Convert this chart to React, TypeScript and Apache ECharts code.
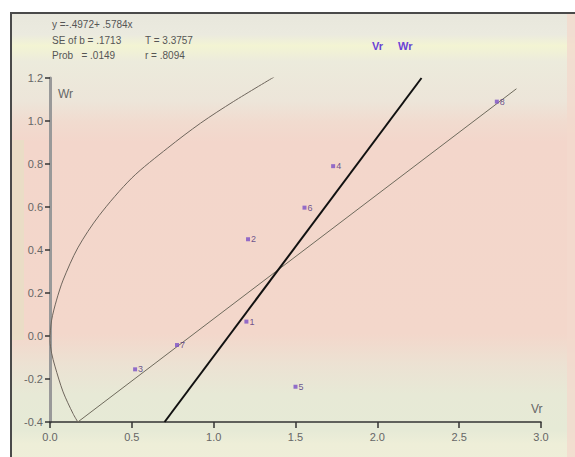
import React, { useEffect, useRef } from "react";
import * as echarts from "echarts";

// ---- data ----
const pointNames = ["1", "2", "3", "4", "5", "6", "7", "8"];
const pointX = [1.2, 1.21, 0.52, 1.73, 1.5, 1.555, 0.776, 2.73];
const pointY = [0.067, 0.45, -0.155, 0.79, -0.236, 0.597, -0.042, 1.09];

const fitX = [0.17, 2.85];
const fitY = [-0.4, 1.15];

const majorX = [0.7, 2.27];
const majorY = [-0.4, 1.2];

const curveX = [1.37, 1.12, 0.92, 0.72, 0.5, 0.3, 0.17, 0.08, 0.04, 0.01, 0.0, 0.01, 0.03, 0.08, 0.14, 0.17];
const curveY = [1.205, 1.09, 0.99, 0.875, 0.735, 0.56, 0.41, 0.26, 0.167, 0.074, -0.02, -0.08, -0.14, -0.26, -0.36, -0.4];

const xMin = 0, xMax = 3, xStep = 0.5;
const yMin = -0.4, yMax = 1.2, yStep = 0.2;

const statsLeft = ["y =-.4972+ .5784x", "SE of b = .1713", "Prob   = .0149"];
const statsRight = ["", "T = 3.3757", "r = .8094"];
const legendNames = ["Vr", "Wr"];
const xName = "Vr";
const yName = "Wr";

const FONT = "'Liberation Sans Narrow', 'Liberation Sans', Arial, sans-serif";

export default function App() {
  const ref = useRef<HTMLDivElement>(null);
  useEffect(() => {
    if (!ref.current) return;
    const chart = echarts.init(ref.current, undefined, { renderer: "svg" });
    const pair = (xs: number[], ys: number[]) => xs.map((x, i) => [x, ys[i]]);

    const bg = new echarts.graphic.LinearGradient(0, 0, 0, 1, [
      { offset: 0, color: "#e8e7dc" },
      { offset: 0.05, color: "#ebeadf" },
      { offset: 0.075, color: "#f3f4d3" },
      { offset: 0.11, color: "#ecebdc" },
      { offset: 0.2, color: "#ede5d9" },
      { offset: 0.245, color: "#f1dbcf" },
      { offset: 0.29, color: "#f3d6cb" },
      { offset: 0.715, color: "#f3d7cb" },
      { offset: 0.785, color: "#ece2d3" },
      { offset: 0.85, color: "#e7e9d6" },
      { offset: 0.93, color: "#e6ead6" },
      { offset: 0.96, color: "#eeeed8" },
      { offset: 1, color: "#efeed9" },
    ]);

    const graphics: any[] = [
      { type: "rect", z: -10, silent: true, shape: { x: 10, y: 12, width: 570, height: 450 }, style: { fill: bg } },
      { type: "rect", z: -9, silent: true, shape: { x: 567, y: 12, width: 10, height: 450 }, style: { fill: "#f3d9cd", opacity: 0.8 } },
      { type: "rect", z: -9, silent: true, shape: { x: 12, y: 140, width: 12, height: 200 }, style: { fill: "#e2e4c2", opacity: 0.5 } },
      { type: "line", z: 5, silent: true, shape: { x1: 10, y1: 13, x2: 575, y2: 13 }, style: { stroke: "#4a4a4a", lineWidth: 2 } },
      { type: "line", z: 5, silent: true, shape: { x1: 11, y1: 12, x2: 11, y2: 457 }, style: { stroke: "#4a4a4a", lineWidth: 2 } },
    ];
    const rowTops = [19, 35, 50];
    statsLeft.forEach((t, i) => {
      graphics.push({ type: "text", left: 52, top: rowTops[i], style: { text: t, fill: "#555", font: `10px ${FONT}` } });
      if (statsRight[i]) graphics.push({ type: "text", left: 145, top: rowTops[i], style: { text: statsRight[i], fill: "#555", font: `10px ${FONT}` } });
    });
    graphics.push({ type: "text", left: 372, top: 40, style: { text: legendNames[0], fill: "#6a42d6", font: `bold 11px ${FONT}` } });
    graphics.push({ type: "text", left: 398, top: 40, style: { text: legendNames[1], fill: "#6a42d6", font: `bold 11px ${FONT}` } });
    graphics.push({ type: "text", left: 58, top: 88, style: { text: yName, fill: "#666", font: `12px ${FONT}` } });
    graphics.push({ type: "text", left: 531, top: 403, style: { text: xName, fill: "#666", font: `12px ${FONT}` } });

    chart.setOption({
      animation: false,
      backgroundColor: "#ffffff",
      grid: { left: 50, right: 34, top: 78, bottom: 35, containLabel: false },
      graphic: graphics,
      xAxis: {
        type: "value",
        min: xMin,
        max: xMax,
        interval: xStep,
        axisLine: { show: true, onZero: false, lineStyle: { color: "#333", width: 1.5 } },
        axisTick: { show: true, inside: false, length: 6, lineStyle: { color: "#333", width: 1.5 } },
        axisLabel: { color: "#666", fontSize: 11, fontFamily: FONT, margin: 9, formatter: (v: number) => v.toFixed(1) },
        splitLine: { show: false },
      },
      yAxis: {
        type: "value",
        min: yMin,
        max: yMax,
        interval: yStep,
        axisLine: { show: true, onZero: false, lineStyle: { color: "#999", width: 3 } },
        axisTick: { show: true, inside: false, length: 5, lineStyle: { color: "#333", width: 1.5 } },
        axisLabel: { color: "#666", fontSize: 11, fontFamily: FONT, margin: 7, formatter: (v: number) => v.toFixed(1) },
        splitLine: { show: false },
      },
      series: [
        {
          type: "line",
          data: pair(curveX, curveY),
          smooth: 0.3,
          symbol: "none",
          lineStyle: { color: "#6e655c", width: 1 },
          z: 2,
        },
        {
          type: "line",
          data: pair(fitX, fitY),
          symbol: "none",
          lineStyle: { color: "#6e6a5c", width: 1 },
          z: 2,
        },
        {
          type: "line",
          data: pair(majorX, majorY),
          symbol: "none",
          lineStyle: { color: "#111", width: 2 },
          z: 3,
        },
        {
          type: "scatter",
          data: pointX.map((x, i) => ({ name: pointNames[i], value: [x, pointY[i]] })),
          symbol: "rect",
          symbolSize: 4,
          itemStyle: { color: "#7b4fc6" },
          label: {
            show: true,
            position: "right",
            distance: 1,
            formatter: (p: any) => p.name,
            fontSize: 9,
            fontFamily: FONT,
            color: "#4a2f7a",
          },
          z: 4,
        },
      ],
    });
    return () => chart.dispose();
  }, []);
  return <div ref={ref} style={{ position: "fixed", left: 0, top: 0, width: 575, height: 457 }} />;
}
